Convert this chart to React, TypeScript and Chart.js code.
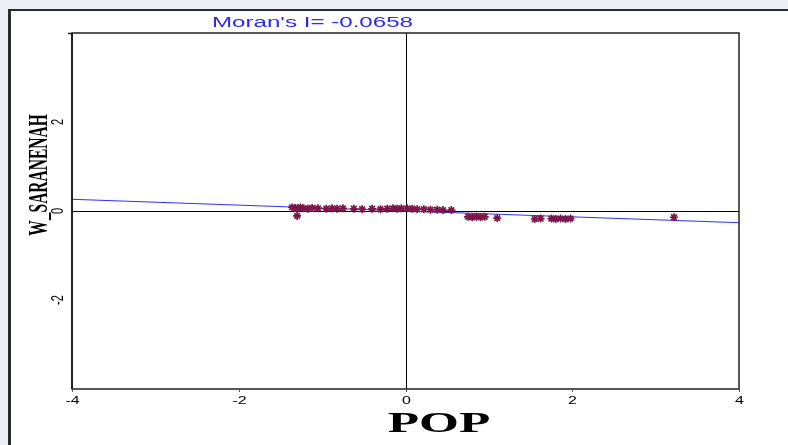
import React, { useEffect, useRef } from "react";
import { Chart, registerables } from "chart.js";

Chart.register(...registerables);

const title = "Moran's I= -0.0658";
const xTitle = "POP";
const yTitle = "W_SARANENAH";
const xTicks = [-4, -2, 0, 2, 4];
const yTicks = [-2, 0, 2];
const slope = -0.0658;
const lineX = [-4, 4];

const popX = [
  -1.36, -1.32, -1.29, -1.26, -1.22, -1.17, -1.12, -1.05, -0.95, -0.88, -0.82, -0.75,
  -0.62, -0.52, -0.4, -0.3, -0.22, -0.15, -0.1, -0.05, 0.02, 0.08, 0.14, 0.22, 0.3,
  0.38, 0.45, 0.55, -1.3, 0.75, 0.8, 0.85, 0.9, 0.95, 1.1, 1.55, 1.62, 1.75, 1.8,
  1.86, 1.92, 1.98, 3.22,
];
const lagY = [
  0.08, 0.07, 0.06, 0.08, 0.06, 0.05, 0.07, 0.06, 0.05, 0.06, 0.05, 0.06,
  0.05, 0.04, 0.05, 0.04, 0.05, 0.06, 0.05, 0.06, 0.06, 0.05, 0.04, 0.04, 0.03,
  0.03, 0.02, 0.02, -0.11, -0.13, -0.14, -0.13, -0.14, -0.13, -0.16, -0.18, -0.17, -0.17, -0.18,
  -0.17, -0.18, -0.17, -0.14,
];

function stretchText(
  ctx: CanvasRenderingContext2D,
  text: string,
  x: number,
  y: number,
  font: string,
  sx: number,
  color: string,
  align: CanvasTextAlign,
  baseline: CanvasTextBaseline,
  rotate = false
) {
  ctx.save();
  ctx.font = font;
  ctx.fillStyle = color;
  ctx.textAlign = align;
  ctx.textBaseline = baseline;
  ctx.translate(x, y);
  ctx.scale(sx, 1);
  if (rotate) ctx.rotate(-Math.PI / 2);
  ctx.fillText(text, 0, 0);
  ctx.restore();
}

const decor = {
  id: "decor",
  beforeDraw(chart: any) {
    const ctx = chart.ctx as CanvasRenderingContext2D;
    const W = chart.width;
    const H = chart.height;
    ctx.save();
    ctx.fillStyle = "#ffffff";
    ctx.fillRect(0, 0, W, H);
    ctx.fillStyle = "#eceef6";
    ctx.fillRect(0, 0, W, 9);
    ctx.fillRect(0, 0, 8, H);
    ctx.fillStyle = "#2a2a2a";
    ctx.fillRect(8, 9, W - 8, 2);
    ctx.fillRect(8, 9, 3, H - 9);
    const xs = chart.scales.x;
    const ys = chart.scales.y;
    const a = chart.chartArea;
    ctx.strokeStyle = "#000000";
    ctx.lineWidth = 1;
    const x0 = Math.round(xs.getPixelForValue(0)) + 0.5;
    const y0 = Math.round(ys.getPixelForValue(0)) + 0.5;
    ctx.beginPath();
    ctx.moveTo(x0, a.top);
    ctx.lineTo(x0, a.bottom);
    ctx.moveTo(a.left, y0);
    ctx.lineTo(a.right, y0);
    ctx.stroke();
    ctx.restore();
  },
  afterDraw(chart: any) {
    const ctx = chart.ctx as CanvasRenderingContext2D;
    const xs = chart.scales.x;
    const ys = chart.scales.y;
    const a = chart.chartArea;
    ctx.save();
    ctx.strokeStyle = "#222222";
    ctx.lineWidth = 1.5;
    ctx.strokeRect(a.left, a.top, a.right - a.left, a.bottom - a.top);
    ctx.fillStyle = "#222222";
    ctx.fillRect(a.left - 1, a.top, 2, a.bottom - a.top);
    ctx.beginPath();
    ctx.moveTo(a.left - 4, a.top + 0.5);
    ctx.lineTo(a.left, a.top + 0.5);
    ctx.stroke();
    ctx.strokeStyle = "#555555";
    ctx.lineWidth = 1;
    for (const v of xTicks) {
      const px = Math.round(xs.getPixelForValue(v)) + 0.5;
      ctx.beginPath();
      ctx.moveTo(px, a.bottom);
      ctx.lineTo(px, a.bottom + 3);
      ctx.stroke();
      stretchText(ctx, String(v), px, a.bottom + 12, "11px 'Liberation Sans'", 1.45, "#000", "center", "middle");
    }
    for (const v of yTicks) {
      const py = ys.getPixelForValue(v);
      stretchText(ctx, String(v), a.left - 13, py, "11px 'Liberation Sans'", 1.45, "#000", "center", "middle", true);
    }
    ctx.font = "14px 'Liberation Sans'";
    const tw = ctx.measureText(title).width;
    stretchText(ctx, title, 212, 27, "14px 'Liberation Sans'", 201 / tw, "#2b2bf0", "left", "alphabetic");
    stretchText(ctx, xTitle, 439, 432, "bold 29px 'Liberation Serif'", 1.77, "#000", "center", "alphabetic");
    stretchText(ctx, yTitle, 47, 175, "bold 15.5px 'Liberation Serif'", 1.8, "#000", "center", "alphabetic", true);
    ctx.restore();
  },
};

export default function App() {
  const ref = useRef<HTMLCanvasElement>(null);
  useEffect(() => {
    if (!ref.current) return;
    const chart = new Chart(ref.current, {
      type: "scatter",
      data: {
        datasets: [
          {
            type: "line",
            data: lineX.map((x) => ({ x, y: slope * x })),
            borderColor: "#3030ff",
            borderWidth: 1,
            pointRadius: 0,
            fill: false,
            order: 2,
          },
          {
            type: "scatter",
            data: popX.map((x, i) => ({ x, y: lagY[i] })),
            pointStyle: "star",
            pointRadius: 4,
            borderColor: "#7d1548",
            backgroundColor: "#7d1548",
            borderWidth: 1.7,
            order: 1,
          },
        ],
      },
      options: {
        responsive: false,
        animation: false,
        events: [],
        layout: { padding: { left: 64, top: 33, right: 49, bottom: 48 } },
        plugins: { legend: { display: false }, tooltip: { enabled: false }, title: { display: false } },
        scales: {
          x: {
            type: "linear",
            min: -4,
            max: 4,
            ticks: { display: false },
            grid: { display: false },
            border: { display: false },
          },
          y: {
            type: "linear",
            min: -4,
            max: 4,
            ticks: { display: false },
            grid: { display: false },
            border: { display: false },
          },
        },
      },
      plugins: [decor],
    });
    return () => chart.destroy();
  }, []);
  return (
    <div style={{ position: "absolute", left: 0, top: 0, width: 788, height: 445 }}>
      <canvas ref={ref} width={788} height={445} />
    </div>
  );
}
